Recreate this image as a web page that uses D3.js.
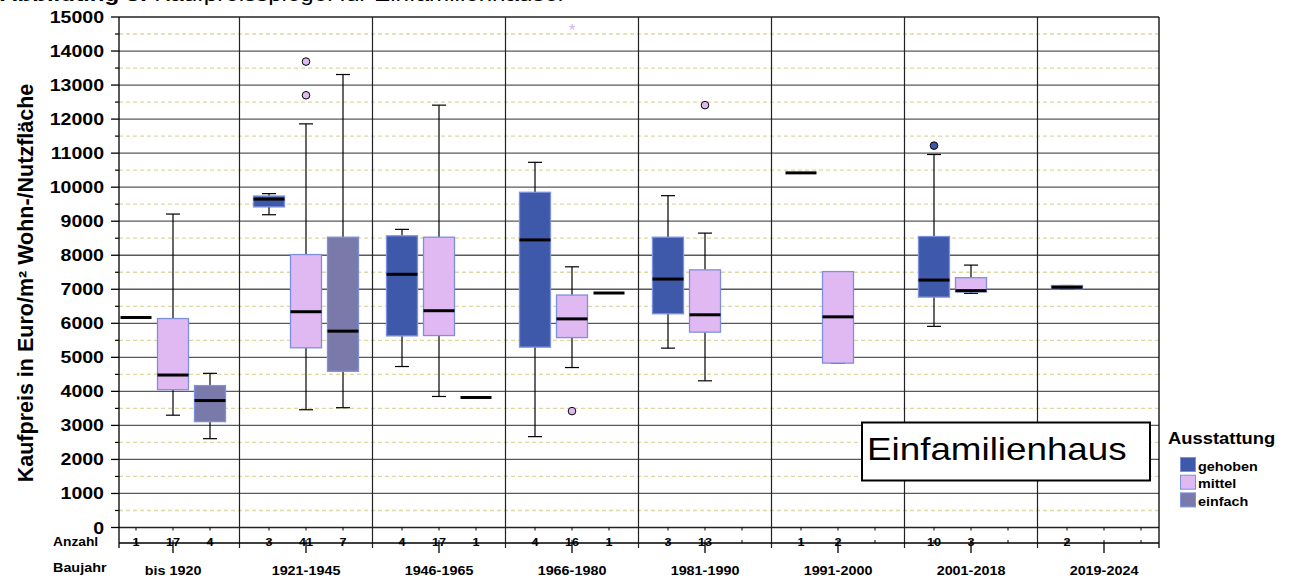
<!DOCTYPE html>
<html>
<head>
<meta charset="utf-8">
<script src="https://cdn.jsdelivr.net/npm/d3@7"></script>
<style>
  html, body { margin: 0; padding: 0; background: #fff; }
  svg { display: block; font-family: "Liberation Sans", Arial, sans-serif; }
</style>
</head>
<body>
<svg id="chart" width="1290" height="579"></svg>
<script>
// categories and series
const categories = ["bis 1920", "1921-1945", "1946-1965", "1966-1980", "1981-1990", "1991-2000", "2001-2018", "2019-2024"];
const levels = ["gehoben", "mittel", "einfach"];

// Anzahl per category: [gehoben, mittel, einfach], null = no data
const counts = [
  [1, 17, 4], [3, 41, 7], [4, 17, 1], [4, 16, 1],
  [3, 13, null], [1, 2, null], [10, 3, null], [2, null, null]
];

// box stats: [min, q1, median, q3, max]
const gehobenStats = [
  [6170, 6170, 6170, 6170, 6170],
  [9190, 9420, 9650, 9740, 9810],
  [4730, 5630, 7440, 8570, 8760],
  [2670, 5300, 8450, 9850, 10730],
  [5270, 6280, 7300, 8530, 9750],
  [10420, 10420, 10420, 10420, 10420],
  [5910, 6770, 7270, 8550, 10960],
  [7010, 7010, 7060, 7110, 7110]
];
const mittelStats = [
  [3300, 4050, 4480, 6140, 9210],
  [3460, 5280, 6340, 8020, 11860],
  [3850, 5640, 6370, 8530, 12410],
  [4700, 5580, 6130, 6830, 7660],
  [4310, 5740, 6250, 7570, 8650],
  [4830, 4830, 6190, 7520, 7520],
  [6880, 6920, 6960, 7340, 7710],
  null
];
const einfachStats = [
  [2610, 3110, 3730, 4170, 4530],
  [3520, 4590, 5770, 8530, 13310],
  [3820, 3820, 3820, 3820, 3820],
  [6890, 6890, 6890, 6890, 6890],
  null, null, null, null
];

// outliers: [category index, level, value]
const outlierCircles = [
  [1, "mittel", 13690], [1, "mittel", 12700],
  [3, "mittel", 3420], [4, "mittel", 12410],
  [6, "gehoben", 11220]
];
const outlierStars = [[3, "mittel", 14650]];

const yTicks = d3.range(0, 15001, 1000);
const yMinor = d3.range(500, 15000, 1000);

const fills = { gehoben: "#3f59aa", mittel: "#e0b9f2", einfach: "#7a7aaa" };
const statsByLevel = { gehoben: gehobenStats, mittel: mittelStats, einfach: einfachStats };

const svg = d3.select("#chart");
const SX = 1.15; // source chart text is stretched horizontally

const plotL = 119, plotR = 1159, plotT = 17, plotB = 527.5;

const x = d3.scaleBand().domain(categories).range([106.5, 1170.5]);
const sub = d3.scalePoint().domain(levels).range([-37, 37]);
const y = d3.scaleLinear().domain([0, 15000]).range([plotB, plotT]);
const boxW = 31;

const cx = (i, lvl) => x(categories[i]) + x.bandwidth() / 2 + sub(lvl);

function label(g, txt, px, py, opts) {
  return g.append("text")
    .attr("transform", `translate(${px},${py}) scale(${SX},1)`)
    .attr("font-size", opts.size)
    .attr("font-weight", opts.weight || "bold")
    .attr("text-anchor", opts.anchor || "start")
    .attr("fill", "#000")
    .text(txt);
}

// title, cut off by the top edge like in the source
const title = svg.append("text")
  .attr("transform", `translate(0,0.5) scale(${SX},1)`)
  .attr("font-size", 21);
title.append("tspan").attr("font-weight", "bold").text("Abbildung 3: ");
title.append("tspan").text("Kaufpreisspiegel für Einfamilienhäuser");

// grid
const grid = svg.append("g");
grid.selectAll("line.minor")
  .data(yMinor)
  .enter()
  .append("line")
  .attr("x1", plotL).attr("x2", plotR)
  .attr("y1", d => y(d)).attr("y2", d => y(d))
  .attr("stroke", "#dcd8a6")
  .attr("stroke-width", 1.3)
  .attr("stroke-dasharray", "4,3");

grid.selectAll("line.major")
  .data(yTicks)
  .enter()
  .append("line")
  .attr("x1", plotL).attr("x2", plotR)
  .attr("y1", d => y(d)).attr("y2", d => y(d))
  .attr("stroke", d => d === 15000 || d === 0 ? "#222" : "#5a5a5a")
  .attr("stroke-width", d => d === 15000 ? 1.6 : 1.3);

// vertical separators between categories
const seps = categories.slice(1).map(c => x(c));
grid.selectAll("line.sep")
  .data(seps)
  .enter()
  .append("line")
  .attr("x1", d => d).attr("x2", d => d)
  .attr("y1", plotT).attr("y2", 548)
  .attr("stroke", "#222")
  .attr("stroke-width", 1.2);

// frame sides
grid.append("line").attr("x1", plotL).attr("x2", plotL).attr("y1", plotT).attr("y2", 548)
  .attr("stroke", "#000").attr("stroke-width", 1.3);
grid.append("line").attr("x1", plotR).attr("x2", plotR).attr("y1", plotT).attr("y2", 548)
  .attr("stroke", "#000").attr("stroke-width", 1.3);

// y axis ticks and labels
const axis = svg.append("g");
axis.selectAll("line.tick")
  .data(yTicks)
  .enter()
  .append("line")
  .attr("x1", 111).attr("x2", plotL)
  .attr("y1", d => y(d)).attr("y2", d => y(d))
  .attr("stroke", "#000").attr("stroke-width", 1.3);
axis.selectAll("line.mtick")
  .data(yMinor)
  .enter()
  .append("line")
  .attr("x1", 115).attr("x2", plotL)
  .attr("y1", d => y(d)).attr("y2", d => y(d))
  .attr("stroke", "#000").attr("stroke-width", 1.2);
yTicks.forEach(v => label(axis, String(v), 104, y(v) + 6, { size: 17, anchor: "end" }));

// y axis title
svg.append("text")
  .attr("transform", "translate(33,283) rotate(-90)")
  .attr("font-size", 21.5)
  .attr("font-weight", "bold")
  .attr("text-anchor", "middle")
  .text("Kaufpreis in Euro/m² Wohn-/Nutzfläche");

// boxes
const boxes = svg.append("g");
levels.forEach(lvl => {
  statsByLevel[lvl].forEach((s, i) => {
    if (!s) return;
    const c = cx(i, lvl);
    const g = boxes.append("g");
    const single = s[0] === s[4];
    if (!single) {
      g.append("line").attr("x1", c).attr("x2", c).attr("y1", y(s[4])).attr("y2", y(s[3]))
        .attr("stroke", "#000").attr("stroke-width", 1.2);
      g.append("line").attr("x1", c).attr("x2", c).attr("y1", y(s[1])).attr("y2", y(s[0]))
        .attr("stroke", "#000").attr("stroke-width", 1.2);
      [s[0], s[4]].forEach(v => g.append("line")
        .attr("x1", c - 7).attr("x2", c + 7).attr("y1", y(v)).attr("y2", y(v))
        .attr("stroke", "#000").attr("stroke-width", 1.2));
      g.append("rect")
        .attr("x", c - boxW / 2).attr("width", boxW)
        .attr("y", y(s[3])).attr("height", Math.max(1, y(s[1]) - y(s[3])))
        .attr("fill", fills[lvl])
        .attr("stroke", "#7d90dc")
        .attr("stroke-width", 1.3);
    }
    g.append("line")
      .attr("x1", c - boxW / 2).attr("x2", c + boxW / 2)
      .attr("y1", y(s[2])).attr("y2", y(s[2]))
      .attr("stroke", "#000").attr("stroke-width", 3);
  });
});

// outliers
boxes.selectAll("circle.out")
  .data(outlierCircles)
  .enter()
  .append("circle")
  .attr("cx", d => cx(d[0], d[1]))
  .attr("cy", d => y(d[2]))
  .attr("r", 3.8)
  .attr("fill", d => fills[d[1]])
  .attr("stroke", "#000")
  .attr("stroke-width", 1);
boxes.selectAll("text.star")
  .data(outlierStars)
  .enter()
  .append("text")
  .attr("x", d => cx(d[0], d[1]))
  .attr("y", d => y(d[2]) + 7)
  .attr("text-anchor", "middle")
  .attr("font-size", 16)
  .attr("fill", "#d6adf0")
  .text("*");

// Anzahl row
const rowY = 543;
const row = svg.append("g");
row.append("line").attr("x1", plotL).attr("x2", plotR).attr("y1", rowY).attr("y2", rowY)
  .attr("stroke", "#000").attr("stroke-width", 1.3);
row.selectAll("line.ctick")
  .data(categories)
  .enter()
  .append("line")
  .attr("x1", d => x(d) + x.bandwidth() / 2).attr("x2", d => x(d) + x.bandwidth() / 2)
  .attr("y1", rowY).attr("y2", 553)
  .attr("stroke", "#000").attr("stroke-width", 1.3);
counts.forEach((arr, i) => {
  arr.forEach((n, j) => {
    const c = cx(i, levels[j]);
    row.append("line").attr("x1", c).attr("x2", c).attr("y1", plotB).attr("y2", plotB + 3)
      .attr("stroke", "#000").attr("stroke-width", 1);
    row.append("line").attr("x1", c).attr("x2", c).attr("y1", rowY - 3).attr("y2", rowY)
      .attr("stroke", "#000").attr("stroke-width", 1);
    if (n !== null) label(row, String(n), c, 546, { size: 11, anchor: "middle" });
  });
});
label(row, "Anzahl", 53, 546, { size: 12 });
label(row, "Baujahr", 53, 572, { size: 12.5 });
categories.forEach(c => label(row, c, x(c) + x.bandwidth() / 2, 575, { size: 12.5, anchor: "middle" }));

// Einfamilienhaus box
const tag = svg.append("g");
tag.append("rect").attr("x", 862).attr("y", 422.5).attr("width", 288).attr("height", 58)
  .attr("fill", "#fff").attr("stroke", "#000").attr("stroke-width", 2);
label(tag, "Einfamilienhaus", 867, 460, { size: 32, weight: "normal" });

// legend
const legend = svg.append("g");
label(legend, "Ausstattung", 1168, 444, { size: 16 });
levels.forEach((lvl, i) => {
  legend.append("rect")
    .attr("x", 1180.5).attr("y", 457.5 + i * 17.7)
    .attr("width", 15).attr("height", 14)
    .attr("fill", fills[lvl])
    .attr("stroke", "#7d90dc").attr("stroke-width", 1);
  label(legend, lvl, 1198, 470.5 + i * 17.7, { size: 12.5 });
});
</script>
</body>
</html>
